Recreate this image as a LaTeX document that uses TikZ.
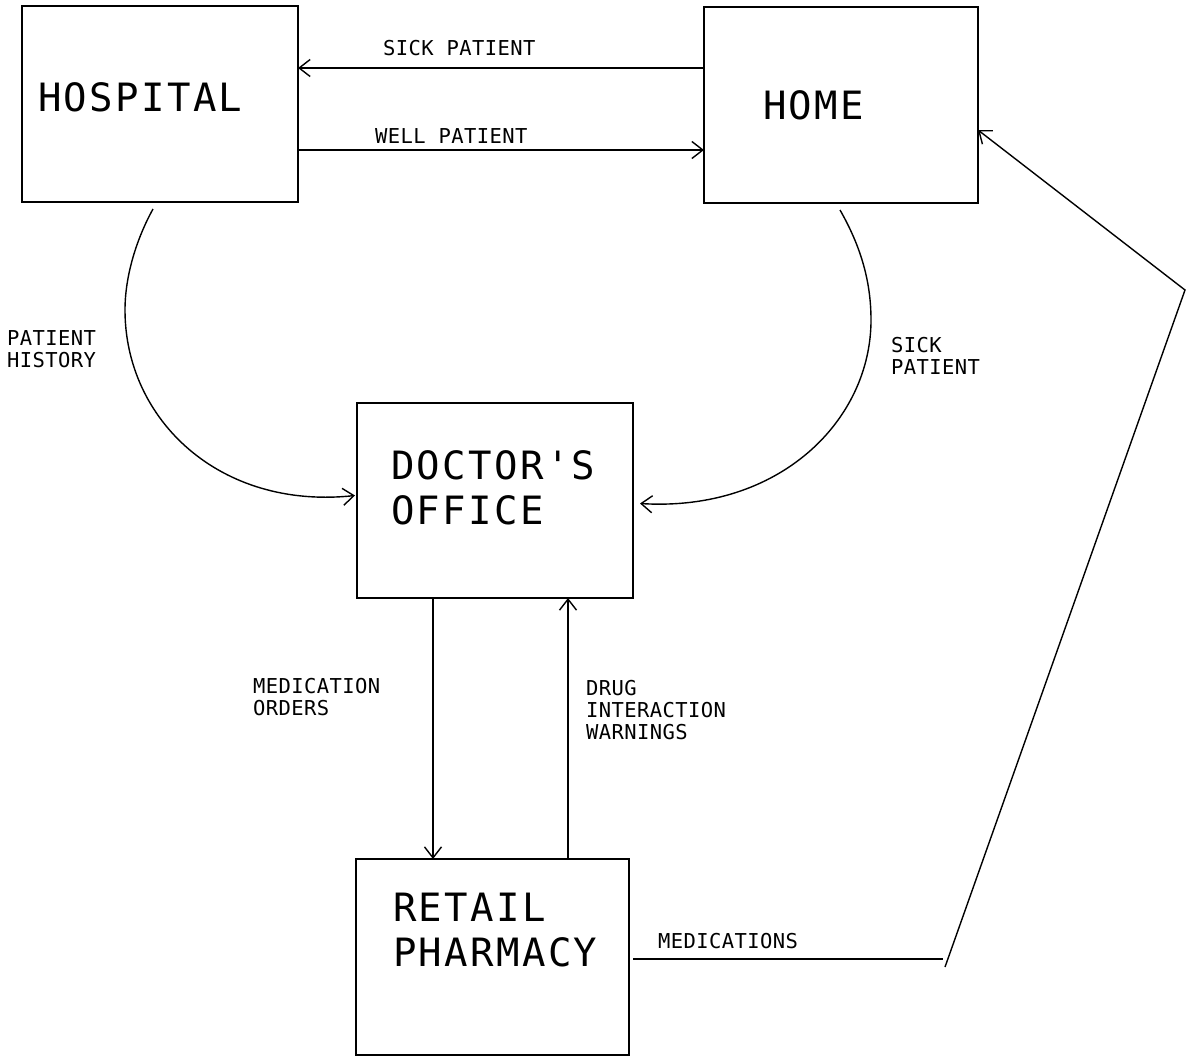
\documentclass[tikz,border=0pt]{standalone}
\usepackage{fontspec}
\newfontfamily\plotfont[LetterSpace=6]{DejaVu Sans Mono}
\newfontfamily\plotsmall[LetterSpace=2]{DejaVu Sans Mono}
\usetikzlibrary{arrows.meta}
\begin{document}
\begin{tikzpicture}[x=1pt,y=-1pt,
  boxnode/.style={draw,line width=1.8pt,rectangle,inner sep=0pt,outer sep=0pt},
  bigtext/.style={anchor=north west,inner sep=0pt,align=left,font=\plotfont\fontsize{39}{45}\selectfont},
  smalltext/.style={anchor=north west,inner sep=0pt,align=left,font=\plotsmall\fontsize{20.5}{22}\selectfont},
  flow/.style={line width=1.4pt},
  arr/.style={flow,-{Straight Barb[length=11pt,width=17pt]}}]
\useasboundingbox (0,0) rectangle (1190,1057);
% boxes
\node[boxnode,minimum width=276pt,minimum height=196pt] (hosp) at (160,104) {};
\node[boxnode,minimum width=274pt,minimum height=196pt] (home) at (841,105) {};
\node[boxnode,minimum width=276pt,minimum height=195pt] (doc) at (495,500.5) {};
\node[boxnode,minimum width=273pt,minimum height=196pt] (pharm) at (492.5,957) {};
% box texts
\node[bigtext] (thosp) at (38,82) {HOSPITAL};
\node[bigtext] (thome) at (763,90) {HOME};
\node[bigtext] (tdoc) at (391,450) {DOCTOR'S\\OFFICE};
\node[bigtext] (tpharm) at (393,893) {RETAIL\\PHARMACY};
% hospital <-> home
\coordinate (s1) at ([yshift=37pt]home.west);
\draw[arr] (s1) -- (s1 -| hosp.east);
\coordinate (w1) at ([yshift=-46pt]hosp.east);
\draw[arr] (w1) -- (w1 -| home.west);
\node[smalltext] (lsick) at (383,40) {SICK PATIENT};
\node[smalltext] (lwell) at (375,128) {WELL PATIENT};
% curves to doctor
\coordinate (c1) at ([xshift=-7pt,yshift=-7pt]hosp.south);
\coordinate (c1m) at (125,310);
\coordinate (c1e) at ([xshift=-2pt,yshift=5pt]doc.west);
\draw[arr] (c1) .. controls (137,238) and (125,275) .. (c1m)
  .. controls (125,420) and (220,510) .. (c1e);
\node[smalltext] (lhist) at (7,330) {PATIENT\\HISTORY};
\coordinate (c2) at ([xshift=-1pt,yshift=-7pt]home.south);
\coordinate (c2m) at (871,320);
\coordinate (c2e) at ([xshift=7pt,yshift=-3pt]doc.east);
\draw[arr] (c2) .. controls (860,245) and (871,280) .. (c2m)
  .. controls (871,420) and (780,512) .. (c2e);
\node[smalltext] (lsick2) at (891,337) {SICK\\PATIENT};
% doctor <-> pharmacy
\coordinate (m1) at ([xshift=-62pt]doc.south);
\draw[arr] (m1) -- (m1 |- pharm.north);
\node[smalltext] (lmed) at (253,678) {MEDICATION\\ORDERS};
\coordinate (d1) at ([xshift=75.5pt]pharm.north);
\draw[arr] (d1) -- (d1 |- doc.south);
\node[smalltext] (ldrug) at (586,680) {DRUG\\INTERACTION\\WARNINGS};
% medications
\coordinate (p1) at ([yshift=-2pt]pharm.east);
\coordinate (p2) at (943,959);
\coordinate (p3) at (945,967);
\coordinate (p4) at (1185,290);
\coordinate (p5) at ([yshift=-25pt]home.east);
\draw[flow] ([xshift=4pt]p1) -- (p2);
\draw[arr,line join=miter] (p3) -- (p4) -- (p5);
\node[smalltext] (lmeds) at (658,933) {MEDICATIONS};
\end{tikzpicture}
\end{document}
